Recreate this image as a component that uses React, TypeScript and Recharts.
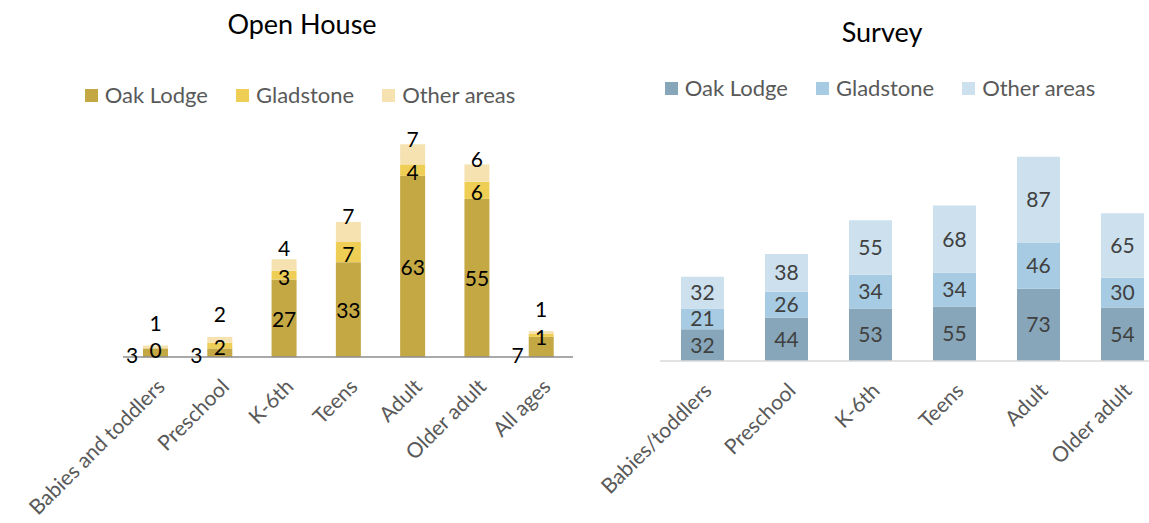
import React from 'react';
import { BarChart, Bar, XAxis, YAxis, LabelList } from 'recharts';

// Open House
const openCategories = ['Babies and toddlers', 'Preschool', 'K-6th', 'Teens', 'Adult', 'Older adult', 'All ages'];
const openOak = [3, 3, 27, 33, 63, 55, 7];
const openGladstone = [0, 2, 3, 7, 4, 6, 1];
const openOther = [1, 2, 4, 7, 7, 6, 1];

// Survey
const surveyCategories = ['Babies/toddlers', 'Preschool', 'K-6th', 'Teens', 'Adult', 'Older adult'];
const surveyOak = [32, 44, 53, 55, 73, 54];
const surveyGladstone = [21, 26, 34, 34, 46, 30];
const surveyOther = [32, 38, 55, 68, 87, 65];

const seriesNames = ['Oak Lodge', 'Gladstone', 'Other areas'];
const goldColors = ['#C4A843', '#EECE55', '#F5E2B0'];
const blueColors = ['#87A6BA', '#A6CBE2', '#CCE0EE'];

const FONT = 'Lato, "Noto Sans", sans-serif';

const openData = openCategories.map((name, i) => ({
  name,
  oak: openOak[i],
  gladstone: openGladstone[i],
  other: openOther[i],
}));

const surveyData = surveyCategories.map((name, i) => ({
  name,
  oak: surveyOak[i],
  gladstone: surveyGladstone[i],
  other: surveyOther[i],
}));

const AngledTick = (props: any) => {
  const { x, y, payload } = props;
  const ax = x + 11;
  const ay = y + 31;
  return (
    <text
      x={ax}
      y={ay}
      transform={`rotate(-45, ${ax}, ${ay})`}
      textAnchor="end"
      fill="#595959"
      style={{ fontFamily: FONT, fontSize: 21 }}
    >
      {payload.value}
    </text>
  );
};

const labelText = (x: number, y: number, value: any, fill = '#000') => (
  <text
    x={x}
    y={y}
    textAnchor="middle"
    dominantBaseline="central"
    fill={fill}
    style={{ fontFamily: FONT, fontSize: 21 }}
  >
    {String(value)}
  </text>
);

// small Oak Lodge segments get their label pushed to the left of the bar
const oakLabel = (props: any) => {
  const { x, y, width, height, value } = props;
  if (height < 25) return labelText(x - 11, y + height - 3, value);
  return labelText(x + width / 2, y + height / 2, value);
};

const midLabel = (props: any) => {
  const { x, y, width, height, value } = props;
  return labelText(x + width / 2, y + height / 2 + 1, value);
};

const otherLabel = (props: any) => {
  const { x, y, width, height, value } = props;
  const lift = height > 15 ? 6 : height > 8 ? 12 : 23;
  return labelText(x + width / 2, y - lift, value);
};

const LegendRow = ({ colors, left, top, width }: { colors: string[]; left: number; top: number; width: number }) => (
  <div
    style={{
      position: 'absolute',
      left,
      top,
      width,
      display: 'flex',
      justifyContent: 'center',
      gap: 28,
      fontFamily: FONT,
      fontSize: 22,
      color: '#595959',
      lineHeight: '24px',
    }}
  >
    {seriesNames.map((n, i) => (
      <div key={n} style={{ display: 'flex', alignItems: 'center' }}>
        <span style={{ width: 13, height: 13, background: colors[i], marginRight: 7, display: 'inline-block' }} />
        <span>{n}</span>
      </div>
    ))}
  </div>
);

const Title = ({ text, center, top }: { text: string; center: number; top: number }) => (
  <div
    style={{
      position: 'absolute',
      left: center - 150,
      width: 300,
      top,
      textAlign: 'center',
      fontFamily: FONT,
      fontSize: 27,
      lineHeight: '30px',
      color: '#000',
    }}
  >
    {text}
  </div>
);

export default function App() {
  return (
    <div style={{ position: 'absolute', left: 0, top: 0, width: 1149, height: 523, overflow: 'hidden', background: '#fff' }}>
      <Title text="Open House" center={302} top={9} />
      <LegendRow colors={goldColors} left={0} top={83} width={600} />

      <div style={{ position: 'absolute', left: 0, top: 0 }}>
        <BarChart width={600} height={523} data={openData} margin={{ top: 127, right: 27, left: 123, bottom: 26 }}>
          <XAxis
            dataKey="name"
            interval={0}
            height={140}
            tickLine={false}
            tickSize={0}
            tickMargin={0}
            axisLine={{ stroke: '#8C8C8C', strokeWidth: 1.5 }}
            tick={<AngledTick />}
          />
          <YAxis hide domain={[0, 80]} />
          <Bar dataKey="oak" stackId="a" fill={goldColors[0]} barSize={25} isAnimationActive={false}>
            <LabelList dataKey="oak" content={oakLabel} />
          </Bar>
          <Bar dataKey="gladstone" stackId="a" fill={goldColors[1]} barSize={25} minPointSize={0.1} isAnimationActive={false}>
            <LabelList dataKey="gladstone" content={midLabel} />
          </Bar>
          <Bar dataKey="other" stackId="a" fill={goldColors[2]} barSize={25} isAnimationActive={false}>
            <LabelList dataKey="other" content={otherLabel} />
          </Bar>
        </BarChart>
      </div>

      <Title text="Survey" center={882} top={17} />
      <LegendRow colors={blueColors} left={620} top={76} width={520} />

      <div style={{ position: 'absolute', left: 560, top: 0 }}>
        <BarChart width={620} height={523} data={surveyData} margin={{ top: 143, right: 16, left: 100, bottom: 22 }}>
          <XAxis
            dataKey="name"
            interval={0}
            height={140}
            tickLine={false}
            tickSize={0}
            tickMargin={0}
            axisLine={{ stroke: '#D9D9D9', strokeWidth: 1.5 }}
            tick={<AngledTick />}
          />
          <YAxis hide domain={[0, 220]} />
          <Bar dataKey="oak" stackId="b" fill={blueColors[0]} barSize={43} isAnimationActive={false}>
            <LabelList dataKey="oak" position="center" fill="#404040" style={{ fontFamily: FONT, fontSize: 21 }} />
          </Bar>
          <Bar dataKey="gladstone" stackId="b" fill={blueColors[1]} barSize={43} isAnimationActive={false}>
            <LabelList dataKey="gladstone" position="center" fill="#404040" style={{ fontFamily: FONT, fontSize: 21 }} />
          </Bar>
          <Bar dataKey="other" stackId="b" fill={blueColors[2]} barSize={43} isAnimationActive={false}>
            <LabelList dataKey="other" position="center" fill="#404040" style={{ fontFamily: FONT, fontSize: 21 }} />
          </Bar>
        </BarChart>
      </div>
    </div>
  );
}
